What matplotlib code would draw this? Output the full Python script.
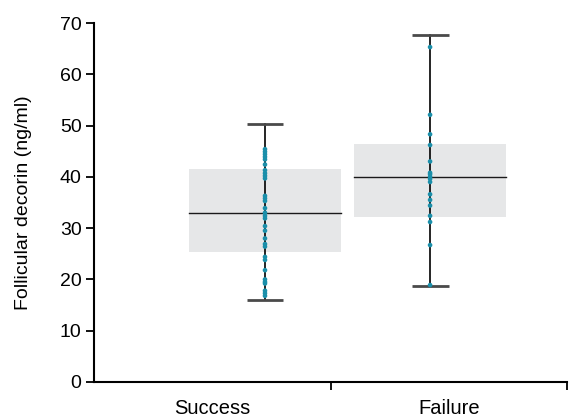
import numpy as np
import matplotlib.pyplot as plt
from matplotlib.patches import Rectangle

plt.rcParams['font.family'] = ['Liberation Sans', 'DejaVu Sans']

# Datos
grupos = ['Success', 'Failure']
caja_inf = [25.4, 32.2]
caja_sup = [41.5, 46.5]
mediana = [33.0, 40.0]
bigote_min = [15.9, 18.8]
bigote_max = [50.4, 67.7]

puntos_success = [45.4, 44.9, 44.4, 43.9, 43.4, 42.4, 41.3, 40.7, 40.2, 39.7,
                  36.3, 35.8, 35.3, 33.9, 33.0, 32.4, 31.9, 30.4, 29.5, 28.0,
                  26.9, 26.4, 24.4, 23.8, 21.8, 20.0, 19.5, 19.2, 17.8, 17.3, 16.8]
puntos_failure = [65.3, 52.1, 48.3, 46.2, 43.0, 40.8, 40.5, 40.0, 39.6, 39.0,
                  36.6, 35.5, 34.4, 32.4, 31.2, 26.7, 18.9]
puntos = [puntos_success, puntos_failure]

# Posiciones (en unidades del eje x, 0..2)
centros = [0.723, 1.421]
ancho = 0.643
ancho_tapa = 0.156

fig = plt.figure(figsize=(5.69, 4.17), dpi=100)
ax = fig.add_axes([94 / 569, 1 - 382 / 417, (567 - 94) / 569, (382 - 23) / 417])

for i in range(len(grupos)):
    c = centros[i]
    ax.add_patch(Rectangle((c - ancho / 2, caja_inf[i]), ancho,
                           caja_sup[i] - caja_inf[i], facecolor='#e6e7e8',
                           edgecolor='none', zorder=1))
    ax.plot([c, c], [bigote_min[i], bigote_max[i]], color='black', lw=1.2, zorder=2)
    ax.plot([c - ancho / 2, c + ancho / 2], [mediana[i]] * 2, color='#1a1a1a',
            lw=1.0, zorder=2)
    for y in (bigote_min[i], bigote_max[i]):
        ax.plot([c - ancho_tapa / 2, c + ancho_tapa / 2], [y, y], color='#4a4a4a',
                lw=2, zorder=2, solid_capstyle='butt')
    ax.scatter([c] * len(puntos[i]), puntos[i], s=11, color='#1a8faa',
               edgecolors='none', zorder=3)

ax.set_xlim(0, 2)
ax.set_ylim(0, 70)
ax.set_yticks(range(0, 71, 10))
ax.set_xticks([1, 2])
ax.set_xticklabels(['', ''])
ax.set_xticks([0.5, 1.5], minor=True)
ax.set_xticklabels(grupos, minor=True, fontsize=14.5)
ax.tick_params(axis='x', which='minor', length=0, pad=12)
ax.tick_params(axis='x', which='major', length=6, width=1.3, direction='out')
ax.tick_params(axis='y', length=6, width=1.3, labelsize=14, pad=3)
ax.spines['top'].set_visible(False)
ax.spines['right'].set_visible(False)
ax.spines['left'].set_linewidth(1.5)
ax.spines['bottom'].set_linewidth(1.5)
ax.set_ylabel('Follicular decorin (ng/ml)', fontsize=14, labelpad=20)

fig.savefig('out.png', dpi=100)
